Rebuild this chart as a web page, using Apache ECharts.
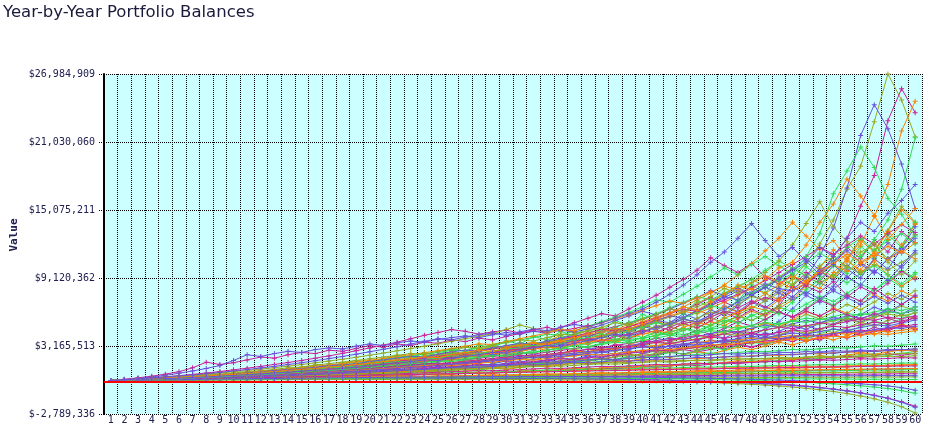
<!DOCTYPE html>
<html>
<head>
<meta charset="utf-8">
<script src="https://cdn.jsdelivr.net/npm/echarts@6/dist/echarts.min.js"></script>
<style>
html,body{margin:0;padding:0;background:#fff;}
#chart{width:929px;height:431px;}
</style>
</head>
<body>
<div id="chart"></div>
<script>
// Year categories and axis ticks
const years = Array.from({length: 60}, (_, i) => String(i + 1));
const yMin = -2789336;
const yMax = 26984909;
const yStep = 5954849;

// Portfolio balance paths, in $ millions (one array per simulated path)
const a1 = [0.15,0.19,0.24,0.28,0.35,0.41,0.47,0.55,0.60,0.70,0.78,0.85,0.98,1.05,1.20,1.25,1.40,1.52,1.60,1.75,1.90,2.05,2.00,2.25,2.40,2.60,2.55,2.80,3.00,3.10,3.30,3.20,3.50,3.70,3.90,3.60,4.00,4.30,4.50,4.40,4.90,5.20,5.00,5.60,6.10,6.00,6.80,7.50,7.20,8.30,9.00,10.4,12.1,14.2,16.9,18.9,22.8,26.985,24.7,21.5];
const a2 = [0.15,0.20,0.22,0.27,0.33,0.36,0.42,0.50,0.55,0.62,0.70,0.74,0.85,0.90,1.00,1.10,1.15,1.30,1.35,1.50,1.60,1.75,1.70,1.90,2.10,2.20,2.40,2.30,2.60,2.80,2.90,3.10,3.00,3.40,3.60,3.80,3.50,4.00,4.20,4.50,4.40,4.80,5.30,5.10,5.70,6.20,6.00,6.90,7.40,7.10,8.00,8.60,9.50,11.0,12.6,15.4,18.1,22.9,25.7,23.6];
const a3 = [0.15,0.18,0.23,0.26,0.31,0.37,0.40,0.46,0.52,0.58,0.66,0.70,0.79,0.88,0.92,1.05,1.12,1.20,1.33,1.40,1.55,1.62,1.78,1.85,2.00,1.95,2.20,2.35,2.50,2.45,2.70,2.90,3.05,3.00,3.30,3.50,3.70,3.60,3.90,4.20,4.50,4.30,4.80,5.20,5.00,5.60,6.10,6.60,6.30,7.20,8.00,8.70,8.20,9.60,10.8,12.0,14.5,17.3,22.0,24.6];
const a4 = [0.15,0.20,0.25,0.31,0.36,0.43,0.49,0.56,0.66,0.72,0.82,0.90,1.02,1.10,1.18,1.30,1.45,1.50,1.62,1.80,1.95,2.10,2.25,2.20,2.45,2.65,2.80,2.75,3.00,3.20,3.40,3.30,3.60,3.85,4.10,4.00,4.40,4.70,4.50,5.00,5.40,5.80,5.60,6.30,6.90,7.50,7.20,7.90,8.60,8.20,8.00,9.20,11.0,13.5,17.0,21.6,24.3,22.2,19.1,15.2];
const a5 = [0.15,0.19,0.23,0.29,0.34,0.38,0.45,0.51,0.57,0.66,0.72,0.80,0.86,0.97,1.05,1.12,1.25,1.30,1.42,1.55,1.70,1.80,1.75,1.98,2.10,2.30,2.25,2.50,2.70,2.90,3.00,3.20,3.10,3.40,3.70,3.90,4.20,4.00,4.50,4.80,5.20,5.00,5.60,6.10,6.70,6.40,7.10,7.80,8.40,8.90,9.50,11.0,13.0,16.5,18.5,20.6,18.8,16.1,14.7,12.8];
const a6 = [0.15,0.21,0.26,0.33,0.39,0.47,0.53,0.63,0.70,0.80,0.92,1.00,1.12,1.25,1.32,1.50,1.62,1.75,1.90,2.05,2.20,2.35,2.50,2.45,2.70,2.90,3.10,3.00,3.30,3.50,3.70,3.60,3.90,4.20,4.10,4.50,4.80,5.20,5.00,5.50,5.90,6.40,6.20,6.90,7.50,8.20,7.80,8.70,9.60,10.6,12.0,13.9,15.8,13.6,12.3,11.0,12.2,10.5,9.40,10.6];
const a7 = [0.15,0.18,0.21,0.25,0.29,0.33,0.37,0.43,0.48,0.53,0.60,0.66,0.72,0.80,0.86,0.95,1.02,1.10,1.20,1.28,1.40,1.50,1.62,1.70,1.85,1.80,2.00,2.15,2.30,2.40,2.60,2.55,2.80,3.00,3.20,3.10,3.40,3.60,3.90,3.80,4.10,4.40,4.70,4.50,5.00,5.40,5.20,5.80,6.30,6.00,7.00,8.10,9.00,10.2,9.50,11.0,12.5,14.2,16.9,21.4];
const a8 = [0.15,0.20,0.24,0.30,0.36,0.40,0.48,0.54,0.62,0.68,0.76,0.86,0.92,1.02,1.12,1.20,1.32,1.40,1.55,1.65,1.80,1.95,2.05,2.20,2.15,2.40,2.60,2.80,2.70,3.00,3.20,3.40,3.30,3.60,3.90,4.20,4.40,4.70,4.60,5.10,5.50,6.00,6.60,6.30,7.00,7.70,8.50,8.10,9.00,10.0,10.5,12.0,14.0,15.6,17.8,16.3,14.6,12.5,13.8,15.2];
const a9 = [0.15,0.22,0.29,0.37,0.45,0.54,0.63,0.74,0.85,0.98,1.10,1.24,1.38,1.54,1.70,1.88,2.06,2.25,2.45,2.66,2.88,3.10,3.34,3.58,3.80,3.70,3.95,4.15,4.30,4.10,4.40,4.65,4.50,4.80,5.05,4.85,5.20,5.60,6.00,6.40,7.00,7.70,8.50,9.40,10.5,11.4,12.6,13.9,12.4,11.0,11.8,10.6,9.40,10.3,9.20,8.50,9.80,8.90,10.2,11.5];
const a10 = [0.15,0.19,0.22,0.27,0.31,0.35,0.41,0.46,0.52,0.59,0.65,0.72,0.80,0.86,0.96,1.04,1.12,1.22,1.30,1.42,1.55,1.66,1.80,1.95,1.90,2.10,2.25,2.40,2.60,2.55,2.80,3.00,3.20,3.15,3.40,3.65,3.90,4.20,4.05,4.40,4.80,5.10,5.50,5.30,5.90,6.40,7.00,7.60,8.30,9.00,9.80,10.5,11.8,11.0,12.6,14.0,13.2,14.8,15.9,17.3];
const b1 = [0.15,0.25,0.38,0.52,0.70,0.92,1.25,1.75,1.55,1.70,1.95,2.20,2.10,2.40,2.60,2.50,2.80,2.70,2.95,3.20,3.05,3.35,3.20,3.50,3.40,3.70,3.55,3.85,3.70,4.00,4.25,4.50,4.40,4.80,5.20,5.60,6.00,5.80,6.40,7.00,7.60,8.30,9.00,9.80,10.9,10.2,9.60,10.4,9.20,8.60,9.40,8.40,7.90,8.80,7.60,7.10,8.20,7.40,6.80,7.60];
const b2 = [0.15,0.19,0.24,0.28,0.34,0.40,0.45,0.52,0.58,0.66,0.74,0.82,0.90,0.98,1.08,1.18,1.28,1.40,1.52,1.62,1.75,1.90,2.05,2.20,2.35,2.30,2.55,2.75,2.95,3.10,3.30,3.50,3.40,3.70,4.00,4.30,4.60,4.50,4.90,5.30,5.70,6.10,6.60,7.20,7.80,8.50,9.40,10.4,11.5,12.6,14.0,12.8,11.6,12.4,10.8,9.60,10.6,9.40,8.40,9.20];
const b3 = [0.15,0.20,0.25,0.30,0.37,0.43,0.50,0.58,0.66,0.74,0.84,0.92,1.02,1.14,1.25,1.35,1.48,1.60,1.72,1.85,2.00,2.15,2.30,2.45,2.60,2.80,2.75,3.00,3.25,3.45,3.70,3.90,4.20,4.10,4.50,4.90,5.30,5.70,6.10,6.60,7.20,7.00,7.70,8.40,9.20,10.0,9.40,10.3,11.0,10.2,9.50,10.4,11.3,10.6,11.8,12.6,11.5,12.4,13.0,12.1];
const b4 = [0.15,0.19,0.23,0.28,0.32,0.38,0.44,0.49,0.56,0.62,0.70,0.78,0.86,0.94,1.02,1.10,1.20,1.30,1.42,1.55,1.65,1.78,1.90,2.05,2.20,2.35,2.50,2.45,2.70,2.90,3.10,3.30,3.25,3.50,3.80,4.05,4.30,4.60,4.50,4.90,5.30,5.70,6.10,6.60,7.10,7.70,8.30,9.00,8.40,9.20,10.0,9.30,10.2,11.0,10.1,11.4,12.0,10.8,11.9,12.9];
const b5 = [0.15,0.18,0.22,0.26,0.30,0.35,0.40,0.45,0.51,0.57,0.64,0.71,0.78,0.86,0.94,1.02,1.10,1.20,1.30,1.40,1.52,1.64,1.75,1.88,2.00,2.15,2.30,2.45,2.40,2.62,2.85,3.05,3.25,3.50,3.75,3.65,4.00,4.30,4.65,5.00,5.40,5.20,5.70,6.20,6.80,7.40,8.00,7.60,8.30,9.10,9.90,10.8,9.80,10.6,11.5,10.5,9.60,10.8,11.6,12.6];
const b6 = [0.15,0.22,0.30,0.38,0.47,0.57,0.68,0.80,0.93,1.08,1.22,1.38,1.55,1.72,1.90,2.10,2.30,2.52,2.75,3.00,3.25,3.50,3.80,4.10,4.35,4.60,4.45,4.20,4.40,4.55,4.30,4.60,4.80,4.50,4.70,4.95,4.60,4.85,5.20,5.50,5.90,6.40,6.20,6.80,7.40,7.00,6.50,7.10,6.60,6.10,5.70,6.20,5.80,6.40,5.90,5.50,6.00,5.60,5.20,5.70];
const b7 = [0.15,0.19,0.23,0.27,0.32,0.37,0.42,0.47,0.53,0.59,0.66,0.72,0.80,0.88,0.96,1.04,1.12,1.22,1.32,1.44,1.55,1.68,1.80,1.94,2.08,2.22,2.38,2.55,2.70,2.65,2.90,3.10,3.35,3.60,3.50,3.80,4.10,4.40,4.70,5.00,5.40,5.80,6.20,6.00,6.50,7.00,7.60,8.20,7.80,8.50,9.30,8.80,9.60,10.4,11.2,10.5,11.3,10.7,11.5,10.8];
const b8 = [0.15,0.20,0.24,0.29,0.35,0.41,0.47,0.53,0.60,0.68,0.76,0.84,0.93,1.02,1.12,1.22,1.33,1.44,1.56,1.68,1.82,1.96,2.10,2.25,2.40,2.56,2.50,2.72,2.95,3.18,3.40,3.35,3.60,3.90,4.20,4.50,4.40,4.80,5.20,5.60,6.00,6.50,7.00,7.50,7.20,7.80,8.40,9.00,9.80,10.6,10.0,9.30,8.60,9.40,8.70,9.50,10.2,9.40,8.60,9.60];
const b9 = [0.15,0.21,0.28,0.35,0.43,0.51,0.60,0.70,0.80,0.91,1.02,1.14,1.27,1.40,1.54,1.69,1.85,2.01,2.18,2.36,2.55,2.74,2.94,3.15,3.36,3.58,3.80,4.02,4.25,4.60,5.00,4.70,4.40,4.65,4.30,4.50,4.75,4.45,4.70,5.00,4.70,5.10,5.50,5.20,5.70,6.20,5.90,6.50,7.10,7.80,8.60,9.20,8.70,9.40,10.1,9.60,10.3,9.80,10.5,11.2];
const b10 = [0.15,0.22,0.32,0.45,0.60,0.78,0.98,1.20,1.45,1.90,2.40,2.25,2.50,2.70,2.60,2.85,3.00,2.90,3.15,3.35,3.20,3.45,3.60,3.50,3.75,3.90,4.05,3.90,4.15,4.35,4.20,4.45,4.30,4.55,4.40,4.65,5.00,5.40,5.80,6.20,5.90,6.40,6.90,7.40,8.00,7.60,8.20,7.70,8.30,7.80,7.20,7.90,7.30,8.00,7.40,6.80,7.50,6.90,7.60,7.00];
const b11 = [0.15,0.19,0.23,0.28,0.33,0.38,0.44,0.50,0.56,0.63,0.70,0.78,0.86,0.95,1.04,1.14,1.24,1.34,1.45,1.57,1.70,1.83,1.96,2.10,2.25,2.40,2.55,2.72,2.90,3.08,3.00,3.25,3.50,3.75,4.00,4.30,4.60,4.50,4.85,5.20,5.60,6.00,6.40,6.20,6.70,7.20,7.70,8.30,8.90,9.60,10.3,11.0,11.8,11.2,12.0,12.8,12.1,13.0,13.8,13.1];
const b12 = [0.15,0.20,0.26,0.31,0.38,0.44,0.51,0.59,0.66,0.75,0.84,0.94,1.04,1.15,1.26,1.38,1.50,1.63,1.77,1.92,2.08,2.24,2.40,2.58,2.76,2.95,3.15,3.35,3.30,3.55,3.80,4.05,4.30,4.60,4.50,4.85,5.20,5.55,5.90,6.30,6.70,7.10,6.90,7.40,7.90,8.40,8.10,8.70,9.30,8.80,8.20,8.90,9.60,10.3,9.70,10.4,11.1,11.9,11.3,12.2];
const c1 = [0.15,0.18,0.21,0.24,0.28,0.32,0.36,0.40,0.45,0.50,0.55,0.60,0.66,0.72,0.78,0.85,0.92,1.00,1.08,1.16,1.25,1.34,1.44,1.54,1.50,1.62,1.75,1.88,2.00,2.12,2.25,2.40,2.35,2.52,2.70,2.88,3.05,3.00,3.20,3.40,3.62,3.85,3.75,4.00,4.25,4.50,4.40,4.70,5.00,4.80,5.10,5.40,5.20,5.50,5.80,5.60,5.90,6.20,6.00,6.30];
const c2 = [0.15,0.17,0.20,0.22,0.25,0.28,0.31,0.34,0.37,0.41,0.45,0.49,0.53,0.58,0.63,0.68,0.73,0.79,0.85,0.91,0.98,1.05,1.12,1.20,1.28,1.36,1.45,1.54,1.50,1.60,1.70,1.80,1.92,2.04,2.00,2.12,2.25,2.38,2.52,2.66,2.80,2.75,2.90,3.05,3.20,3.36,3.30,3.45,3.60,3.76,3.92,4.10,4.00,4.18,4.36,4.55,4.45,4.65,4.85,5.05];
const c3 = [0.15,0.18,0.22,0.25,0.29,0.33,0.37,0.42,0.47,0.52,0.57,0.63,0.69,0.75,0.82,0.89,0.96,1.04,1.12,1.20,1.29,1.38,1.48,1.45,1.56,1.68,1.80,1.92,2.05,2.18,2.12,2.26,2.40,2.55,2.70,2.65,2.80,2.96,3.12,3.05,3.20,3.36,3.30,3.46,3.62,3.55,3.70,3.86,3.80,3.95,4.10,4.00,4.15,4.30,4.20,4.35,4.50,4.40,4.55,4.70];
const c4 = [0.15,0.17,0.19,0.22,0.24,0.27,0.30,0.33,0.36,0.40,0.43,0.47,0.51,0.55,0.60,0.64,0.69,0.74,0.80,0.85,0.91,0.97,1.04,1.10,1.17,1.24,1.32,1.30,1.38,1.46,1.55,1.64,1.60,1.70,1.80,1.90,2.00,1.96,2.06,2.16,2.27,2.22,2.32,2.43,2.54,2.50,2.60,2.70,2.66,2.76,2.86,2.82,2.92,3.02,2.98,3.08,3.18,3.14,3.24,3.34];
const c5 = [0.15,0.18,0.21,0.25,0.28,0.32,0.36,0.41,0.45,0.50,0.55,0.61,0.67,0.73,0.79,0.86,0.93,1.00,1.08,1.16,1.24,1.33,1.42,1.52,1.62,1.72,1.83,1.94,1.90,2.02,2.15,2.28,2.42,2.56,2.50,2.65,2.80,2.96,3.12,3.30,3.48,3.40,3.60,3.80,4.00,4.20,4.10,4.32,4.55,4.78,5.00,4.88,5.12,5.36,5.60,5.45,5.70,5.95,5.80,6.05];
const c6 = [0.15,0.17,0.20,0.23,0.26,0.29,0.32,0.36,0.39,0.43,0.47,0.51,0.56,0.61,0.66,0.71,0.77,0.83,0.89,0.95,1.02,1.09,1.16,1.14,1.22,1.30,1.38,1.46,1.55,1.52,1.60,1.69,1.78,1.75,1.84,1.93,2.02,1.98,2.08,2.18,2.14,2.24,2.34,2.30,2.40,2.50,2.46,2.56,2.52,2.62,2.58,2.68,2.64,2.74,2.70,2.80,2.76,2.86,2.82,2.92];
const c7 = [0.15,0.19,0.23,0.27,0.31,0.36,0.41,0.46,0.52,0.58,0.64,0.70,0.77,0.84,0.92,1.00,1.08,1.17,1.26,1.36,1.46,1.56,1.67,1.78,1.90,2.02,1.98,2.10,2.24,2.38,2.52,2.46,2.62,2.78,2.95,3.12,3.05,3.22,3.40,3.58,3.50,3.70,3.90,4.10,4.00,4.22,4.44,4.35,4.58,4.80,4.70,4.94,5.18,5.05,5.30,5.55,5.42,5.68,5.55,5.80];
const c8 = [0.15,0.17,0.19,0.21,0.24,0.26,0.29,0.32,0.35,0.38,0.41,0.44,0.48,0.52,0.56,0.60,0.64,0.69,0.74,0.79,0.84,0.90,0.96,1.02,1.08,1.15,1.22,1.20,1.27,1.34,1.42,1.50,1.48,1.56,1.64,1.72,1.70,1.78,1.86,1.94,1.92,2.00,2.08,2.05,2.14,2.22,2.20,2.28,2.36,2.34,2.42,2.50,2.48,2.56,2.64,2.62,2.70,2.78,2.76,2.84];
const c9 = [0.15,0.18,0.22,0.26,0.30,0.35,0.40,0.45,0.51,0.57,0.63,0.70,0.77,0.84,0.92,1.00,1.09,1.18,1.28,1.38,1.49,1.60,1.72,1.84,1.80,1.93,2.07,2.21,2.36,2.30,2.46,2.62,2.80,2.98,2.90,3.10,3.30,3.50,3.42,3.64,3.86,4.10,4.00,4.25,4.50,4.40,4.66,4.92,4.80,5.08,5.36,5.24,5.52,5.40,5.70,6.00,5.86,6.16,6.02,6.32];
const c10 = [0.15,0.17,0.20,0.23,0.25,0.28,0.31,0.35,0.38,0.42,0.45,0.49,0.53,0.58,0.62,0.67,0.72,0.77,0.83,0.88,0.94,1.00,1.07,1.04,1.11,1.18,1.25,1.32,1.30,1.37,1.44,1.42,1.49,1.56,1.63,1.60,1.67,1.74,1.72,1.79,1.86,1.84,1.91,1.88,1.95,2.02,2.00,2.07,2.04,2.11,2.08,2.15,2.12,2.19,2.16,2.23,2.20,2.27,2.24,2.31];
const c11 = [0.15,0.19,0.22,0.26,0.30,0.34,0.38,0.43,0.48,0.53,0.58,0.64,0.70,0.76,0.82,0.89,0.96,1.04,1.12,1.20,1.28,1.37,1.46,1.56,1.66,1.62,1.73,1.84,1.96,2.08,2.20,2.14,2.27,2.40,2.54,2.68,2.62,2.77,2.92,3.08,3.00,3.16,3.32,3.25,3.42,3.59,3.52,3.70,3.88,3.80,3.98,4.16,4.08,4.27,4.46,4.38,4.58,4.78,4.70,4.90];
const c12 = [0.15,0.17,0.18,0.20,0.22,0.24,0.26,0.28,0.30,0.33,0.35,0.38,0.41,0.44,0.47,0.50,0.53,0.57,0.61,0.64,0.68,0.72,0.77,0.81,0.86,0.91,0.96,1.01,1.00,1.05,1.10,1.16,1.22,1.20,1.26,1.32,1.38,1.36,1.42,1.48,1.54,1.52,1.58,1.64,1.62,1.68,1.74,1.72,1.78,1.84,1.82,1.88,1.94,1.92,1.98,2.04,2.02,2.08,2.14,2.12];
const c13 = [0.15,0.18,0.21,0.24,0.28,0.31,0.35,0.39,0.44,0.48,0.53,0.58,0.63,0.69,0.75,0.81,0.87,0.94,1.01,1.08,1.16,1.24,1.32,1.41,1.50,1.46,1.56,1.66,1.76,1.87,1.98,1.94,2.06,2.18,2.30,2.43,2.38,2.51,2.64,2.78,2.92,2.86,3.00,3.15,3.30,3.22,3.38,3.54,3.46,3.62,3.78,3.70,3.86,4.02,3.94,4.10,4.26,4.18,4.34,4.50];
const c14 = [0.15,0.16,0.18,0.20,0.21,0.23,0.25,0.27,0.29,0.31,0.33,0.36,0.38,0.41,0.43,0.46,0.49,0.52,0.55,0.58,0.61,0.65,0.68,0.72,0.76,0.80,0.84,0.88,0.87,0.91,0.95,0.99,1.03,1.02,1.06,1.10,1.14,1.13,1.17,1.21,1.25,1.24,1.28,1.32,1.31,1.35,1.39,1.38,1.42,1.46,1.45,1.49,1.53,1.52,1.56,1.60,1.59,1.63,1.67,1.66];
const c15 = [0.15,0.18,0.20,0.23,0.27,0.30,0.34,0.38,0.42,0.46,0.51,0.56,0.61,0.66,0.72,0.78,0.84,0.91,0.98,1.05,1.12,1.20,1.28,1.37,1.46,1.55,1.65,1.75,1.86,1.97,2.08,2.20,2.14,2.26,2.39,2.52,2.66,2.80,2.95,3.10,3.02,3.18,3.35,3.52,3.44,3.62,3.80,3.98,3.90,4.10,4.30,4.20,4.42,4.64,4.54,4.78,5.02,4.92,5.18,5.44];
const c16 = [0.15,0.19,0.23,0.28,0.32,0.37,0.43,0.49,0.55,0.61,0.68,0.75,0.83,0.91,0.99,1.08,1.17,1.27,1.37,1.48,1.59,1.70,1.82,1.95,2.08,2.22,2.16,2.30,2.45,2.60,2.76,2.92,3.10,3.02,3.20,3.38,3.57,3.76,3.66,3.86,4.06,4.28,4.18,4.40,4.62,4.85,4.74,4.98,5.22,5.10,5.35,5.60,5.48,5.74,6.00,5.86,6.14,6.42,6.28,6.56];
const c17 = [0.15,0.16,0.18,0.19,0.21,0.23,0.24,0.26,0.28,0.30,0.32,0.34,0.37,0.39,0.41,0.44,0.46,0.49,0.52,0.55,0.58,0.61,0.64,0.67,0.71,0.74,0.78,0.82,0.80,0.84,0.88,0.92,0.96,0.94,0.98,1.02,1.06,1.04,1.08,1.12,1.16,1.14,1.18,1.22,1.20,1.24,1.28,1.26,1.30,1.34,1.32,1.36,1.40,1.38,1.42,1.46,1.44,1.48,1.52,1.50];
const c18 = [0.15,0.18,0.21,0.25,0.29,0.33,0.37,0.42,0.47,0.52,0.57,0.63,0.69,0.76,0.83,0.90,0.98,1.06,1.14,1.23,1.33,1.43,1.53,1.64,1.60,1.71,1.83,1.95,2.08,2.21,2.35,2.28,2.42,2.57,2.72,2.88,2.80,2.96,3.13,3.30,3.48,3.38,3.56,3.75,3.94,3.84,4.04,4.24,4.14,4.35,4.56,4.45,4.67,4.89,4.78,5.01,5.24,5.12,5.36,5.60];
const c19 = [0.15,0.17,0.19,0.21,0.24,0.26,0.29,0.31,0.34,0.37,0.40,0.43,0.47,0.50,0.54,0.58,0.62,0.66,0.71,0.75,0.80,0.85,0.90,0.96,1.01,1.07,1.13,1.19,1.17,1.23,1.29,1.36,1.43,1.40,1.47,1.54,1.61,1.58,1.65,1.72,1.80,1.76,1.84,1.92,1.88,1.96,2.04,2.00,2.08,2.16,2.12,2.20,2.28,2.24,2.32,2.40,2.36,2.44,2.52,2.48];
const c20 = [0.15,0.17,0.20,0.22,0.25,0.28,0.31,0.34,0.38,0.41,0.45,0.49,0.53,0.57,0.62,0.67,0.72,0.77,0.82,0.88,0.94,1.00,1.06,1.13,1.20,1.27,1.24,1.31,1.38,1.46,1.54,1.50,1.58,1.66,1.75,1.70,1.79,1.88,1.84,1.93,2.02,1.98,2.07,2.16,2.12,2.21,2.30,2.26,2.35,2.44,2.40,2.49,2.58,2.54,2.63,2.72,2.68,2.77,2.86,2.82];
const d1 = [0.15,0.16,0.18,0.19,0.20,0.22,0.23,0.24,0.26,0.27,0.29,0.30,0.31,0.33,0.34,0.36,0.37,0.39,0.40,0.41,0.43,0.44,0.46,0.47,0.48,0.50,0.51,0.52,0.54,0.55,0.56,0.58,0.59,0.60,0.61,0.63,0.64,0.65,0.66,0.68,0.69,0.70,0.71,0.72,0.74,0.75,0.76,0.77,0.78,0.79,0.80,0.82,0.83,0.84,0.85,0.86,0.87,0.88,0.89,0.90];
const d2 = [0.15,0.16,0.17,0.18,0.19,0.20,0.21,0.22,0.23,0.24,0.25,0.26,0.27,0.28,0.29,0.30,0.31,0.32,0.33,0.34,0.35,0.36,0.37,0.38,0.39,0.40,0.41,0.41,0.42,0.43,0.44,0.45,0.45,0.46,0.47,0.48,0.48,0.49,0.50,0.50,0.51,0.51,0.52,0.52,0.53,0.53,0.54,0.54,0.54,0.55,0.55,0.55,0.56,0.56,0.56,0.56,0.57,0.57,0.57,0.57];
const d3 = [0.15,0.17,0.19,0.21,0.23,0.25,0.27,0.29,0.32,0.34,0.36,0.39,0.41,0.44,0.46,0.49,0.51,0.54,0.56,0.59,0.61,0.64,0.66,0.69,0.71,0.74,0.76,0.79,0.81,0.84,0.86,0.88,0.91,0.93,0.95,0.98,1.00,1.02,1.04,1.07,1.09,1.11,1.13,1.15,1.17,1.19,1.21,1.23,1.25,1.27,1.29,1.30,1.32,1.34,1.35,1.37,1.38,1.40,1.41,1.42];
const d4 = [0.15,0.16,0.17,0.19,0.20,0.21,0.23,0.24,0.25,0.27,0.28,0.30,0.31,0.33,0.34,0.36,0.38,0.39,0.41,0.43,0.45,0.46,0.48,0.50,0.52,0.54,0.56,0.58,0.60,0.62,0.64,0.66,0.68,0.70,0.72,0.74,0.76,0.79,0.81,0.83,0.85,0.87,0.89,0.91,0.93,0.95,0.97,0.99,1.01,1.03,1.05,1.07,1.08,1.10,1.12,1.13,1.15,1.16,1.18,1.19];
const d5 = [0.15,0.15,0.16,0.17,0.17,0.18,0.19,0.19,0.20,0.21,0.21,0.22,0.22,0.23,0.23,0.24,0.24,0.25,0.25,0.26,0.26,0.27,0.27,0.27,0.28,0.28,0.28,0.29,0.29,0.29,0.29,0.30,0.30,0.30,0.30,0.30,0.30,0.31,0.31,0.31,0.31,0.31,0.31,0.30,0.30,0.30,0.30,0.30,0.29,0.29,0.29,0.28,0.28,0.27,0.27,0.26,0.25,0.25,0.24,0.23];
const e1 = [0.15,0.16,0.17,0.18,0.19,0.20,0.21,0.22,0.23,0.24,0.25,0.26,0.27,0.28,0.28,0.29,0.30,0.30,0.31,0.31,0.32,0.32,0.32,0.33,0.33,0.33,0.33,0.33,0.33,0.32,0.32,0.31,0.31,0.30,0.29,0.28,0.27,0.25,0.24,0.22,0.20,0.17,0.15,0.12,0.09,0.05,0.01,-0.04,-0.10,-0.17,-0.25,-0.35,-0.46,-0.60,-0.75,-0.93,-1.15,-1.40,-1.72,-2.10];
const e2 = [0.15,0.16,0.17,0.17,0.18,0.19,0.20,0.20,0.21,0.22,0.22,0.23,0.23,0.24,0.24,0.25,0.25,0.25,0.26,0.26,0.26,0.26,0.26,0.26,0.26,0.26,0.25,0.25,0.24,0.24,0.23,0.22,0.21,0.20,0.19,0.18,0.16,0.15,0.13,0.11,0.09,0.06,0.03,0.00,-0.04,-0.08,-0.13,-0.19,-0.26,-0.34,-0.43,-0.54,-0.67,-0.82,-1.00,-1.21,-1.46,-1.76,-2.15,-2.70];
const e3 = [0.15,0.16,0.18,0.19,0.20,0.21,0.22,0.23,0.24,0.25,0.26,0.27,0.28,0.29,0.30,0.31,0.31,0.32,0.33,0.33,0.34,0.34,0.35,0.35,0.35,0.35,0.35,0.35,0.35,0.34,0.34,0.33,0.32,0.31,0.30,0.29,0.27,0.26,0.24,0.22,0.19,0.16,0.13,0.10,0.06,0.02,-0.03,-0.08,-0.14,-0.21,-0.29,-0.38,-0.49,-0.62,-0.77,-0.95,-1.17,-1.42,-1.76,-2.20];
const e4 = [0.15,0.16,0.17,0.18,0.19,0.21,0.22,0.23,0.24,0.25,0.26,0.27,0.28,0.29,0.30,0.31,0.32,0.33,0.34,0.35,0.35,0.36,0.37,0.37,0.38,0.38,0.39,0.39,0.39,0.39,0.39,0.39,0.39,0.38,0.38,0.37,0.36,0.35,0.34,0.33,0.31,0.30,0.28,0.26,0.23,0.21,0.18,0.15,0.11,0.07,0.03,-0.02,-0.08,-0.15,-0.23,-0.32,-0.43,-0.56,-0.74,-0.98];
const e5 = [0.15,0.16,0.18,0.19,0.21,0.22,0.24,0.25,0.27,0.28,0.30,0.31,0.33,0.34,0.35,0.37,0.38,0.39,0.40,0.41,0.42,0.43,0.44,0.45,0.46,0.46,0.47,0.47,0.48,0.48,0.48,0.48,0.48,0.48,0.47,0.47,0.46,0.45,0.44,0.43,0.42,0.40,0.38,0.36,0.34,0.31,0.28,0.25,0.22,0.18,0.14,0.09,0.04,-0.02,-0.08,-0.15,-0.23,-0.33,-0.48,-0.70];
const f1 = [0.15,0.18,0.22,0.27,0.25,0.30,0.36,0.34,0.40,0.47,0.44,0.52,0.60,0.57,0.66,0.75,0.70,0.80,0.92,0.86,0.98,1.10,1.04,1.18,1.32,1.25,1.40,1.56,1.48,1.65,1.82,1.72,1.90,2.10,1.98,2.20,2.42,2.30,2.55,2.80,2.65,2.95,3.25,3.05,3.40,3.75,3.50,3.90,4.30,4.05,4.50,4.95,4.60,5.10,5.60,5.25,5.80,6.40,5.95,6.60];
const f2 = [0.15,0.19,0.17,0.22,0.26,0.24,0.29,0.35,0.32,0.38,0.45,0.42,0.50,0.58,0.54,0.63,0.59,0.69,0.80,0.74,0.86,0.98,0.92,1.05,0.98,1.12,1.28,1.20,1.36,1.55,1.45,1.65,1.55,1.76,2.00,1.86,2.10,1.96,2.22,2.50,2.34,2.64,2.46,2.78,3.12,2.90,3.26,3.04,3.42,3.82,3.56,3.98,3.70,4.15,3.86,4.32,4.80,4.48,4.98,4.62];
const f3 = [0.15,0.20,0.26,0.24,0.31,0.39,0.36,0.45,0.55,0.51,0.62,0.74,0.68,0.82,0.97,0.90,1.06,1.24,1.15,1.34,1.55,1.44,1.67,1.92,1.78,2.05,2.35,2.18,2.50,2.85,2.64,3.00,2.78,3.15,3.55,3.30,3.72,3.45,3.88,4.35,4.05,4.55,5.10,4.75,5.30,4.95,5.55,6.20,5.80,6.45,7.20,8.40,9.80,9.00,10.6,9.80,11.5,13.2,12.0,13.8];
const f4 = [0.15,0.17,0.20,0.19,0.22,0.25,0.24,0.27,0.31,0.29,0.33,0.37,0.35,0.39,0.44,0.42,0.47,0.52,0.49,0.55,0.61,0.58,0.64,0.71,0.67,0.74,0.82,0.78,0.86,0.94,0.89,0.98,1.07,1.02,1.11,1.21,1.15,1.25,1.36,1.29,1.40,1.52,1.44,1.56,1.69,1.60,1.73,1.87,1.77,1.91,2.06,1.95,2.10,2.26,2.14,2.30,2.47,2.34,2.51,2.69];
const f5 = [0.15,0.18,0.21,0.25,0.29,0.27,0.32,0.37,0.43,0.40,0.46,0.53,0.61,0.57,0.65,0.74,0.84,0.78,0.89,1.01,1.14,1.06,1.20,1.35,1.52,1.42,1.60,1.80,1.68,1.89,2.12,1.98,2.22,2.48,2.32,2.60,2.90,2.70,3.02,3.36,3.14,3.50,3.90,3.64,4.05,4.50,4.20,4.66,5.18,4.84,5.36,5.94,5.55,6.14,6.80,6.35,7.02,7.76,7.25,8.01];
const f6 = [0.15,0.20,0.18,0.23,0.29,0.27,0.34,0.31,0.39,0.47,0.44,0.53,0.49,0.59,0.70,0.65,0.77,0.71,0.84,0.99,0.92,1.08,1.00,1.17,1.37,1.27,1.48,1.37,1.60,1.86,1.72,2.00,1.85,2.15,2.48,2.30,2.65,2.45,2.82,3.24,3.00,3.44,3.18,3.64,4.16,3.85,4.40,4.06,4.64,5.30,6.40,7.60,7.00,8.40,9.90,9.10,10.8,9.90,11.7,13.6];
const f7 = [0.15,0.17,0.19,0.22,0.21,0.24,0.27,0.26,0.29,0.33,0.31,0.35,0.39,0.37,0.41,0.46,0.44,0.49,0.54,0.51,0.57,0.63,0.60,0.66,0.73,0.69,0.76,0.83,0.79,0.87,0.95,0.90,0.99,1.08,1.03,1.12,1.22,1.16,1.26,1.37,1.30,1.41,1.53,1.45,1.57,1.70,1.61,1.74,1.88,1.78,1.92,2.07,1.96,2.11,2.27,2.15,2.31,2.48,2.35,2.52];
const f8 = [0.15,0.19,0.24,0.22,0.28,0.35,0.32,0.40,0.49,0.45,0.55,0.66,0.61,0.73,0.87,0.80,0.95,0.88,1.04,1.22,1.13,1.32,1.22,1.42,1.65,1.53,1.77,1.64,1.90,2.19,2.03,2.34,2.17,2.50,2.87,2.66,3.05,2.83,3.24,3.70,3.43,3.92,3.63,4.14,3.84,4.37,4.96,4.60,5.22,4.84,5.48,6.20,5.75,6.50,6.03,6.80,7.66,7.10,8.00,7.42];
const f9 = [0.15,0.18,0.22,0.26,0.31,0.36,0.34,0.40,0.47,0.54,0.51,0.59,0.68,0.78,0.73,0.84,0.96,1.09,1.02,1.16,1.32,1.49,1.40,1.58,1.78,2.00,1.88,2.11,2.36,2.22,2.48,2.77,2.60,2.90,3.23,3.04,3.38,3.76,3.53,3.92,4.35,4.08,4.52,5.00,4.70,5.20,5.75,5.40,5.96,6.58,6.18,6.82,7.52,7.06,7.78,8.57,8.05,8.86,9.75,9.15];
const f10 = [0.15,0.17,0.16,0.18,0.20,0.19,0.21,0.23,0.22,0.24,0.27,0.26,0.28,0.31,0.29,0.32,0.35,0.33,0.36,0.39,0.37,0.40,0.43,0.41,0.44,0.47,0.45,0.48,0.51,0.49,0.52,0.55,0.53,0.56,0.59,0.57,0.60,0.63,0.61,0.64,0.67,0.65,0.68,0.71,0.69,0.72,0.75,0.73,0.76,0.79,0.77,0.80,0.83,0.81,0.84,0.87,0.85,0.88,0.91,0.89];
const f11 = [0.15,0.19,0.23,0.28,0.34,0.32,0.38,0.46,0.55,0.51,0.61,0.72,0.85,0.79,0.93,1.09,1.01,1.18,1.38,1.28,1.49,1.73,1.61,1.86,2.15,2.00,2.30,2.65,2.46,2.83,3.25,3.02,3.46,3.20,3.66,4.18,3.88,4.42,4.10,4.66,5.30,4.92,5.58,5.18,5.88,6.66,6.18,7.00,6.50,7.36,8.32,7.72,8.72,8.10,9.14,10.3,9.56,10.8,10.0,11.3];
const f12 = [0.15,0.18,0.21,0.20,0.23,0.27,0.31,0.29,0.33,0.38,0.43,0.40,0.45,0.51,0.58,0.54,0.61,0.69,0.78,0.72,0.81,0.91,1.02,0.95,1.06,1.18,1.31,1.22,1.35,1.49,1.64,1.53,1.68,1.84,2.01,1.87,2.04,2.22,2.41,2.24,2.43,2.63,2.85,2.65,2.86,3.09,3.33,3.10,3.34,3.59,3.86,3.59,3.86,4.14,4.44,4.13,4.43,4.74,5.07,4.72];
const f13 = [0.15,0.16,0.18,0.20,0.22,0.21,0.23,0.25,0.27,0.26,0.28,0.30,0.33,0.31,0.34,0.37,0.40,0.38,0.41,0.44,0.47,0.45,0.48,0.51,0.55,0.52,0.56,0.60,0.64,0.61,0.65,0.69,0.73,0.70,0.74,0.78,0.83,0.79,0.84,0.89,0.94,0.90,0.95,1.00,1.06,1.01,1.07,1.13,1.19,1.14,1.20,1.26,1.32,1.27,1.33,1.40,1.47,1.41,1.48,1.55];
const f14 = [0.15,0.20,0.25,0.31,0.29,0.36,0.44,0.53,0.49,0.59,0.71,0.85,0.79,0.94,1.12,1.04,1.23,1.45,1.34,1.58,1.85,1.71,2.00,2.34,2.16,2.52,2.33,2.71,3.14,2.90,3.36,3.10,3.58,3.30,3.80,3.50,4.02,3.70,4.24,3.90,4.46,4.10,4.70,4.32,4.94,5.64,5.18,5.90,5.42,6.18,5.68,6.46,7.34,6.74,7.66,7.04,8.00,9.08,8.34,9.46];
const f15 = [0.15,0.18,0.21,0.25,0.24,0.28,0.32,0.37,0.35,0.40,0.46,0.52,0.49,0.56,0.63,0.71,0.67,0.76,0.85,0.95,0.90,1.01,1.13,1.06,1.18,1.32,1.24,1.38,1.54,1.45,1.61,1.79,1.68,1.87,2.07,1.95,2.16,2.39,2.25,2.49,2.75,2.58,2.85,3.14,2.95,3.25,3.58,3.36,3.70,4.07,3.82,4.20,4.62,4.34,4.77,5.24,4.92,5.40,5.93,5.57];
const f16 = [0.15,0.17,0.19,0.18,0.20,0.22,0.21,0.23,0.26,0.25,0.27,0.30,0.28,0.31,0.34,0.32,0.35,0.38,0.36,0.39,0.43,0.41,0.44,0.48,0.46,0.50,0.54,0.52,0.56,0.60,0.58,0.62,0.66,0.64,0.68,0.72,0.70,0.74,0.78,0.76,0.80,0.84,0.82,0.86,0.90,0.88,0.92,0.96,0.94,0.98,1.02,1.00,1.04,1.08,1.06,1.10,1.14,1.12,1.16,1.20];
const f17 = [0.15,0.19,0.24,0.30,0.28,0.35,0.43,0.52,0.48,0.58,0.70,0.65,0.78,0.93,0.86,1.02,1.20,1.11,1.30,1.52,1.41,1.64,1.90,1.76,2.04,2.35,2.18,2.51,2.32,2.67,3.06,2.83,3.24,3.00,3.43,3.90,3.60,4.10,3.80,4.32,4.90,4.54,5.14,4.76,5.38,6.08,5.64,6.36,5.90,6.66,8.40,9.60,8.80,10.2,11.8,10.8,12.5,11.4,13.2,12.2];
const f18 = [0.15,0.18,0.16,0.19,0.23,0.21,0.25,0.29,0.27,0.32,0.37,0.34,0.40,0.46,0.43,0.50,0.57,0.53,0.61,0.70,0.65,0.74,0.85,0.79,0.90,1.02,0.95,1.08,1.22,1.13,1.28,1.44,1.34,1.51,1.70,1.58,1.78,1.99,1.85,2.07,2.31,2.15,2.40,2.67,2.48,2.76,3.06,2.85,3.16,3.50,3.26,3.60,3.98,3.70,4.08,4.50,4.19,4.62,5.08,4.73];
const f19 = [0.15,0.16,0.18,0.19,0.21,0.20,0.22,0.24,0.26,0.25,0.27,0.29,0.31,0.30,0.32,0.34,0.37,0.35,0.38,0.41,0.44,0.42,0.45,0.48,0.51,0.49,0.52,0.55,0.58,0.56,0.59,0.62,0.65,0.63,0.66,0.69,0.72,0.70,0.73,0.76,0.79,0.77,0.80,0.83,0.86,0.84,0.87,0.90,0.93,0.91,0.94,0.97,1.00,0.98,1.01,1.04,1.07,1.05,1.08,1.11];
const f20 = [0.15,0.20,0.26,0.33,0.31,0.39,0.49,0.60,0.56,0.68,0.82,0.98,0.92,1.09,1.29,1.51,1.41,1.64,1.90,1.77,2.04,2.35,2.19,2.51,2.34,2.68,3.06,2.85,3.24,3.02,3.42,3.18,3.60,3.35,3.78,3.52,3.96,3.68,4.14,4.64,4.32,4.84,4.50,5.04,5.62,5.22,5.82,5.40,6.02,6.70,7.40,8.60,10.0,9.20,10.8,12.6,11.5,13.3,15.4,14.0];
const f21 = [0.15,0.18,0.22,0.20,0.24,0.29,0.27,0.32,0.38,0.35,0.41,0.48,0.45,0.52,0.60,0.56,0.65,0.75,0.70,0.80,0.92,0.86,0.98,1.12,1.05,1.19,1.35,1.26,1.43,1.62,1.52,1.71,1.93,1.81,2.04,2.29,2.15,2.41,2.70,2.53,2.83,3.16,2.96,3.30,3.68,3.45,3.84,4.27,4.00,4.45,4.94,4.63,5.14,5.70,5.34,5.92,6.56,6.14,6.80,7.52];
const f22 = [0.15,0.16,0.17,0.19,0.18,0.20,0.21,0.23,0.22,0.24,0.26,0.25,0.27,0.29,0.28,0.30,0.32,0.31,0.33,0.35,0.34,0.36,0.38,0.37,0.39,0.41,0.40,0.42,0.44,0.43,0.45,0.47,0.46,0.48,0.50,0.49,0.51,0.53,0.52,0.54,0.56,0.55,0.57,0.59,0.58,0.60,0.62,0.61,0.63,0.65,0.64,0.66,0.68,0.67,0.69,0.71,0.70,0.72,0.74,0.73];
const f23 = [0.15,0.19,0.23,0.28,0.34,0.41,0.38,0.46,0.55,0.66,0.61,0.73,0.87,1.03,0.95,1.12,1.32,1.22,1.43,1.67,1.55,1.80,2.09,1.94,2.24,2.59,2.40,2.77,3.18,2.95,3.38,3.14,3.58,4.08,3.78,4.30,3.98,4.52,5.12,4.74,5.36,4.96,5.60,6.32,5.86,6.60,6.12,6.90,7.76,7.20,9.20,8.50,10.0,11.6,10.7,12.4,11.4,13.2,15.1,13.9];
const f24 = [0.15,0.18,0.21,0.20,0.24,0.28,0.26,0.30,0.35,0.33,0.38,0.44,0.41,0.47,0.54,0.51,0.58,0.66,0.62,0.71,0.80,0.75,0.85,0.96,0.90,1.02,1.15,1.08,1.22,1.37,1.29,1.45,1.62,1.53,1.71,1.91,1.80,2.01,2.24,2.11,2.35,2.61,2.46,2.73,3.03,2.86,3.17,3.51,3.31,3.66,4.05,3.82,4.22,4.66,4.40,4.85,5.35,5.05,5.56,6.13];
const f25 = [0.15,0.16,0.17,0.18,0.19,0.18,0.19,0.20,0.21,0.20,0.21,0.22,0.23,0.22,0.23,0.24,0.25,0.24,0.25,0.26,0.27,0.26,0.27,0.28,0.29,0.28,0.29,0.30,0.31,0.30,0.31,0.32,0.33,0.32,0.33,0.34,0.35,0.34,0.35,0.36,0.37,0.36,0.37,0.38,0.39,0.38,0.39,0.40,0.41,0.40,0.41,0.42,0.43,0.42,0.43,0.44,0.45,0.44,0.45,0.46];
const f26 = [0.15,0.19,0.24,0.22,0.28,0.34,0.42,0.39,0.47,0.57,0.53,0.64,0.77,0.71,0.85,1.01,0.94,1.11,1.31,1.21,1.43,1.68,1.55,1.82,2.13,1.97,2.30,2.68,2.48,2.88,2.66,3.08,3.56,3.29,3.80,3.51,4.04,4.64,4.29,4.92,4.55,5.22,5.98,5.52,6.32,5.84,6.68,7.64,7.06,8.06,7.45,8.50,9.70,8.96,10.2,9.44,10.8,12.2,11.3,12.9];
const f27 = [0.15,0.18,0.22,0.26,0.24,0.29,0.34,0.40,0.37,0.43,0.50,0.58,0.54,0.62,0.72,0.83,0.77,0.88,1.01,1.16,1.08,1.23,1.40,1.30,1.48,1.68,1.56,1.77,2.00,1.86,2.10,2.37,2.20,2.48,2.80,2.60,2.92,3.29,3.06,3.44,3.86,3.59,4.03,4.52,4.20,4.71,5.28,4.91,5.50,6.16,5.73,6.41,7.17,6.67,7.46,8.34,7.76,8.67,9.69,9.01];
const f28 = [0.15,0.17,0.19,0.21,0.20,0.22,0.25,0.28,0.26,0.29,0.32,0.36,0.34,0.37,0.41,0.45,0.43,0.47,0.52,0.57,0.54,0.59,0.65,0.71,0.67,0.73,0.80,0.87,0.83,0.90,0.98,1.07,1.01,1.10,1.20,1.14,1.24,1.35,1.28,1.39,1.51,1.43,1.55,1.68,1.60,1.73,1.87,1.78,1.92,2.08,1.98,2.14,2.31,2.20,2.37,2.56,2.44,2.63,2.84,2.70];
const f29 = [0.15,0.20,0.26,0.24,0.31,0.40,0.37,0.47,0.60,0.55,0.70,0.88,0.81,1.02,0.94,1.18,1.46,1.34,1.66,1.53,1.89,2.32,2.13,2.60,2.39,2.92,2.68,3.26,2.99,3.62,3.32,4.02,3.68,4.44,4.06,4.90,4.48,5.40,4.94,5.94,5.42,6.52,5.96,7.14,6.52,7.80,7.12,8.52,7.78,9.30,8.48,10.1,9.24,11.0,10.0,11.9,10.9,12.9,11.8,14.0];
const f30 = [0.15,0.17,0.20,0.19,0.22,0.25,0.29,0.27,0.31,0.35,0.40,0.37,0.42,0.48,0.54,0.51,0.57,0.64,0.72,0.68,0.76,0.85,0.95,0.89,0.99,1.10,1.22,1.15,1.27,1.40,1.55,1.46,1.61,1.77,1.95,1.84,2.02,2.22,2.44,2.30,2.52,2.76,3.02,2.85,3.11,3.40,3.71,3.50,3.81,4.16,4.53,4.27,4.65,5.06,5.50,5.19,5.64,6.13,6.66,6.28];

const paths = [
  f1,f2,f3,f4,f5,f6,f7,f8,f9,f10,f11,f12,f13,f14,f15,f16,f17,f18,f19,f20,f21,f22,f23,f24,f25,f26,f27,f28,f29,f30,
  c1,c2,c3,c4,c5,c6,c7,c8,c9,c10,c11,c12,c13,c14,c15,c16,c17,c18,c19,c20,
  d1,d2,d3,d4,d5,e1,e2,e3,e4,e5,
  b1,b2,b3,b4,b5,b6,b7,b8,b9,b10,b11,b12,
  a1,a2,a3,a4,a5,a6,a7,a8,a9,a10
];
const pathColorKeys =
  'PMOGYPMOGYPMOGYPMOGYPMOGYPMOGY' +
  'PMOGYPMOGYPMOGPGOMYP' +
  'YPMOG' + 'MYPGP' +
  'MOGYPMOGYPMO' +
  'YMOPGYGOPP';

const palette = {P:'#6a50dc', M:'#cc2099', O:'#ff8000', G:'#33dd55', Y:'#99aa22'};
const plusSymbol = 'path://M2,0L3,0L3,2L5,2L5,3L3,3L3,5L2,5L2,3L0,3L0,2L2,2Z';
const textColor = '#202050';
const monoFont = 'DejaVu Sans Mono';

function fmtMoney(v) {
  return '$' + String(Math.round(v)).replace(/\B(?=(\d{3})+(?!\d))/g, ',');
}

const series = paths.map((p, i) => ({
  type: 'line',
  data: p.map(v => Math.round(v * 1e6)),
  symbol: plusSymbol,
  symbolSize: 5,
  showSymbol: true,
  lineStyle: {width: 1, color: palette[pathColorKeys[i]]},
  itemStyle: {color: palette[pathColorKeys[i]]},
  z: 2
}));
series.push({
  type: 'line',
  data: [],
  z: 5,
  markLine: {
    silent: true,
    symbol: ['none', 'none'],
    label: {show: false},
    lineStyle: {color: '#ff0000', width: 2, type: 'solid'},
    data: [{yAxis: 0}]
  }
});

const chart = echarts.init(document.getElementById('chart'), null, {renderer: 'canvas'});
chart.setOption({
  animation: false,
  title: {
    text: 'Year-by-Year Portfolio Balances',
    left: 3, top: 4, padding: 0,
    textStyle: {fontFamily: 'DejaVu Sans', fontSize: 16.5, fontWeight: 'normal', color: '#1a1a3a'}
  },
  graphic: [{
    type: 'text',
    x: 14, y: 235,
    rotation: Math.PI / 2,
    style: {
      text: 'Value',
      fontFamily: monoFont, fontSize: 11, fontWeight: 'bold',
      fill: textColor, align: 'center', verticalAlign: 'middle'
    }
  }],
  grid: {
    left: 104, right: 7, top: 74, bottom: 17,
    outerBoundsMode: 'none',
    containLabel: false,
    show: true, backgroundColor: '#ccffff', borderWidth: 0
  },
  xAxis: {
    type: 'category',
    data: years,
    boundaryGap: true,
    axisLine: {show: false},
    axisTick: {show: false},
    axisLabel: {interval: 0, margin: 1, fontFamily: monoFont, fontSize: 10, color: textColor},
    splitLine: {show: true, interval: 0, lineStyle: {color: '#000', type: 'dotted', width: 1}}
  },
  yAxis: {
    type: 'value',
    min: yMin, max: yMax, interval: yStep,
    axisLine: {show: true, onZero: false, lineStyle: {color: '#000', width: 2}},
    axisTick: {show: true, length: 6, lineStyle: {color: '#000', type: 'dotted'}},
    axisLabel: {margin: 9, fontFamily: monoFont, fontSize: 10, color: textColor, formatter: fmtMoney},
    splitLine: {show: true, lineStyle: {color: '#000', type: 'dotted', width: 1}}
  },
  series: series
});
</script>
</body>
</html>
